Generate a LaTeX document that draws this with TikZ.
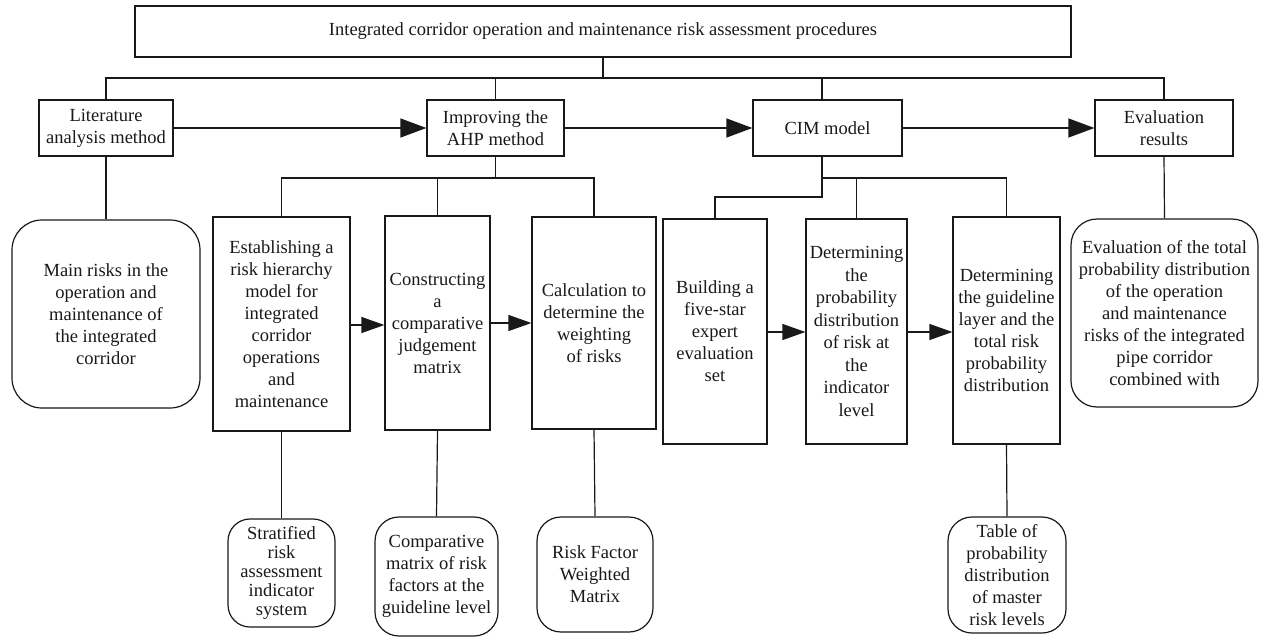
\documentclass[tikz,border=0pt]{standalone}
\usepackage{fontspec}
\setmainfont{Liberation Serif}
\usetikzlibrary{arrows.meta}
\tikzset{
  base/.style={draw=black!90, line width=1.2pt, inner sep=0pt, align=center,
    font=\fontsize{18.5}{22}\selectfont, text=black!90},
  sbox/.style={base, rectangle},
  rbox/.style={base, rectangle, rounded corners=#1},
  wire/.style={draw=black!90, line width=1.2pt},
  bigarrow/.style={wire, -{Triangle[length=26pt,width=19pt]}},
  smallarrow/.style={wire, -{Triangle[length=23pt,width=16pt]}},
}
\begin{document}
\begin{tikzpicture}[x=1pt,y=-1pt]
\useasboundingbox (0,0) rectangle (1263,637);
% top level
\node[sbox, minimum width=936pt, minimum height=51pt] (top) at (603,31.5) {Integrated corridor operation and maintenance risk assessment procedures};
\node[sbox, minimum width=134pt, minimum height=56pt] (lit) at (106,128) {Literature\\analysis method};
\node[sbox, minimum width=137pt, minimum height=56pt] (ahp) at (495.5,128) {Improving the\\AHP method};
\node[sbox, minimum width=149pt, minimum height=56pt] (cim) at (827.5,128) {CIM model};
\node[sbox, minimum width=138pt, minimum height=56pt] (eval) at (1164,128) {Evaluation\\results};
% second row
\node[rbox=30pt, minimum width=188pt, minimum height=188pt] (main) at (106,314) {Main risks in the\\operation and\\maintenance of\\the integrated\\corridor};
\node[sbox, minimum width=137pt, minimum height=214pt] (estab) at (281.5,324) {Establishing a\\risk hierarchy\\model for\\integrated\\corridor\\operations\\and\\maintenance};
\node[sbox, minimum width=105pt, minimum height=214pt] (constr) at (437.5,323) {Constructing\\a\\comparative\\judgement\\matrix};
\node[sbox, minimum width=124pt, minimum height=212pt] (calc) at (594,323) {Calculation to\\determine the\\weighting\\of risks};
\node[sbox, minimum width=104pt, minimum height=225pt] (five) at (715,331.5) {Building a\\five-star\\expert\\evaluation\\set};
\node[sbox, minimum width=101pt, minimum height=225pt, font=\fontsize{18.5}{22.5}\selectfont] (prob) at (856.5,331.5) {Determining\\the\\probability\\distribution\\of risk at\\the\\indicator\\level};
\node[sbox, minimum width=107pt, minimum height=227pt] (guide) at (1006.5,330.5) {Determining\\the guideline\\layer and the\\total risk\\probability\\distribution};
\node[rbox=26pt, minimum width=187pt, minimum height=188pt] (evalr) at (1164.5,313) {Evaluation of the total\\probability distribution\\of the operation\\and maintenance\\risks of the integrated\\pipe corridor\\combined with};
% bottom row
\node[rbox=22pt, minimum width=107pt, minimum height=108pt, font=\fontsize{18.5}{19}\selectfont] (strat) at (281.5,573) {Stratified\\risk\\assessment\\indicator\\system};
\node[rbox=24pt, minimum width=123pt, minimum height=119pt] (comp) at (436.5,576.5) {Comparative\\matrix of risk\\factors at the\\guideline level};
\node[rbox=24pt, minimum width=116pt, minimum height=115pt] (rf) at (595,574.5) {Risk Factor\\Weighted\\Matrix};
\node[rbox=24pt, minimum width=118pt, minimum height=116pt] (table) at (1007,575) {Table of\\probability\\distribution\\of master\\risk levels};
% helper coordinates
\coordinate (bus) at (603,78);
\coordinate (ahpbus) at (495.5,178);
\coordinate (cimx) at (822,178);
\coordinate (jog) at (822,197);
% top bus
\draw[wire] (top.south) -- (bus);
\draw[wire] (lit.north) -- (lit.north |- bus) -- (eval.north |- bus) -- (eval.north);
\draw[wire] (ahp.north) -- (ahp.north |- bus);
\draw[wire] (cimx |- cim.north) -- (cimx |- bus);
% arrows top row
\draw[bigarrow] (lit.east) -- (ahp.west);
\draw[bigarrow] (ahp.east) -- (cim.west);
\draw[bigarrow] (cim.east) -- (eval.west);
% AHP branch
\draw[wire] (ahp.south) -- (ahpbus);
\draw[wire] (estab.north) -- (estab.north |- ahpbus) -- (calc.north |- ahpbus) -- (calc.north);
\draw[wire] (constr.north) -- (constr.north |- ahpbus);
% CIM branch
\draw[wire] (cimx |- cim.south) -- (jog) -- (five.north |- jog) -- (five.north);
\draw[wire] (cimx) -- (guide.north |- cimx) -- (guide.north);
\draw[wire] (prob.north) -- (prob.north |- cimx);
% row arrows
\draw[smallarrow] (estab.east |- 0,325) -- (constr.west |- 0,325);
\draw[smallarrow] (constr.east) -- (calc.west |- constr.east);
\draw[smallarrow] (five.east |- 0,332) -- (prob.west |- 0,332);
\draw[smallarrow] (prob.east |- 0,332) -- (guide.west |- 0,332);
% verticals
\draw[wire] (lit.south) -- (main.north);
\draw[wire] (eval.south) -- (evalr.north);
\draw[wire] (estab.south) -- (strat.north);
\draw[wire] (constr.south) -- (comp.north);
\draw[wire] (calc.south) -- (rf.north);
\draw[wire] (guide.south) -- (table.north);
\end{tikzpicture}
\end{document}
